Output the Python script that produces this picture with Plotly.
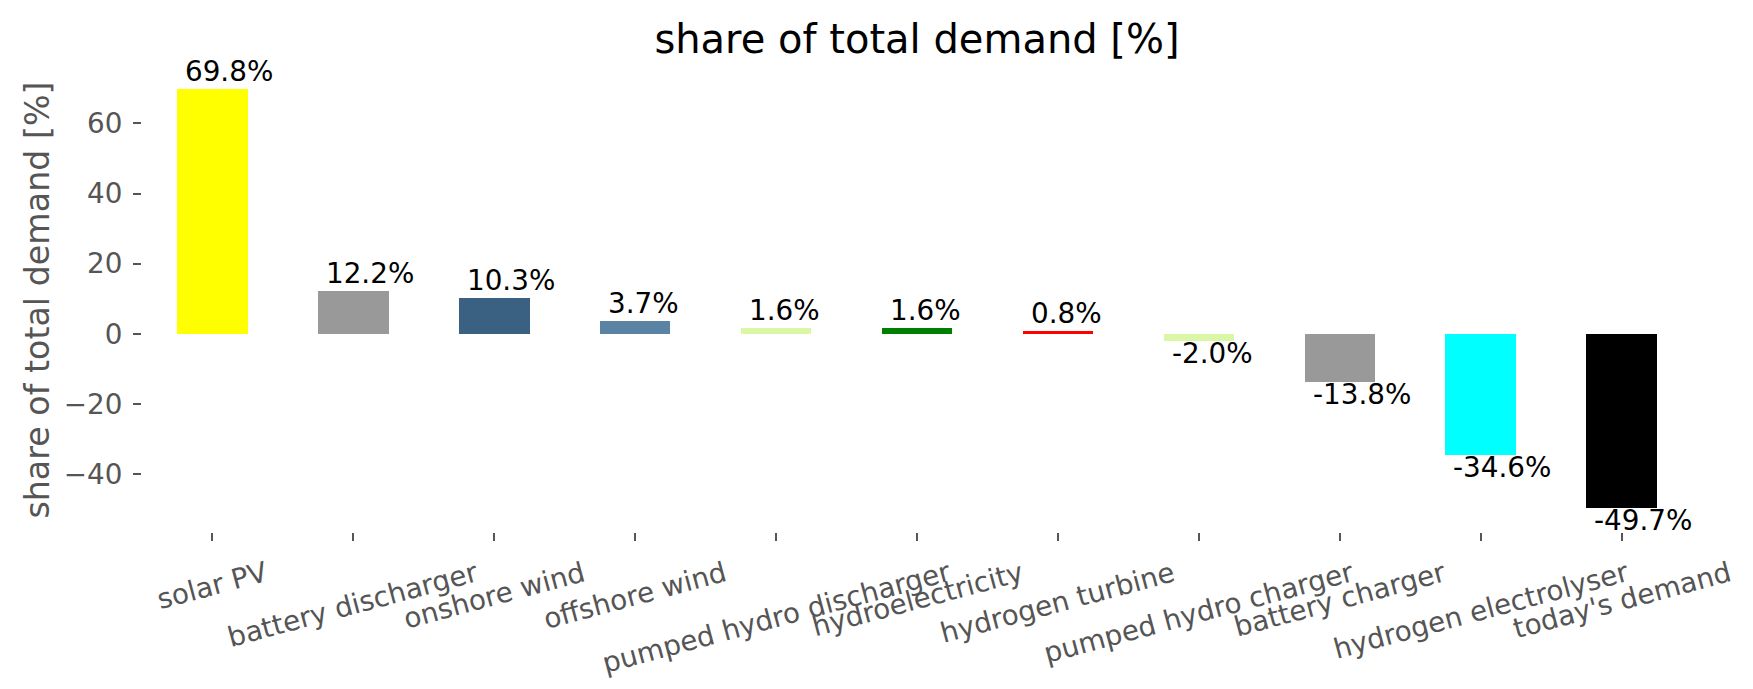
import plotly.graph_objects as go

# carriers, in the order they are plotted
carriers = ["solar PV", "battery discharger", "onshore wind", "offshore wind",
            "pumped hydro discharger", "hydroelectricity", "hydrogen turbine",
            "pumped hydro charger", "battery charger", "hydrogen electrolyser",
            "today's demand"]

# share of total demand [%]
shares = [69.8, 12.2, 10.3, 3.7, 1.6, 1.6, 0.8, -2.0, -13.8, -34.6, -49.7]

colors = ["#ffff00", "#999999", "#3b6182", "#5b83a3", "#daf7a6", "#008000",
          "#ff0000", "#daf7a6", "#999999", "#00ffff", "#000000"]

FONT = "DejaVu Sans"
GREY = "#555555"

fig = go.Figure()

fig.add_trace(go.Bar(
    x=list(range(len(carriers))),
    y=shares,
    width=0.5,
    marker=dict(color=colors, line=dict(width=0)),
    hoverinfo="skip",
))

annotations = []

# value labels, left aligned just inside the bar edge
for i, v in enumerate(shares):
    annotations.append(dict(
        x=i - 0.2, y=v, xref="x", yref="y",
        text=f"{v:.1f}%",
        showarrow=False,
        xanchor="left",
        yanchor="bottom" if v >= 0 else "top",
        yshift=0 if v >= 0 else 5,
        font=dict(family=FONT, size=27.8, color="black"),
        borderpad=0,
    ))

# rotated category labels, centred under each tick like matplotlib does
for i, name in enumerate(carriers):
    annotations.append(dict(
        x=i, y=0, xref="x", yref="paper",
        text=name,
        showarrow=False,
        textangle=-15,
        xanchor="center",
        yanchor="top",
        yshift=-22,
        font=dict(family=FONT, size=27.8, color=GREY),
        borderpad=0,
    ))

fig.update_layout(
    width=1753,
    height=689,
    margin=dict(l=142, r=61, t=68, b=157),
    paper_bgcolor="white",
    plot_bgcolor="white",
    showlegend=False,
    bargap=0,
    title=dict(
        text="share of total demand [%]",
        x=(142 + 1692) / 2 / 1753,
        xanchor="center",
        y=1 - 39 / 689,
        yanchor="middle",
        font=dict(family=FONT, size=40, color="black"),
    ),
    annotations=annotations,
)

fig.update_xaxes(
    range=[-0.5, len(carriers) - 0.5],
    tickmode="array",
    tickvals=list(range(len(carriers))),
    showticklabels=False,
    ticks="outside",
    ticklen=8,
    tickwidth=1.5,
    tickcolor=GREY,
    showgrid=False,
    zeroline=False,
    showline=False,
)

fig.update_yaxes(
    range=[-56.5, 75.8],
    tickvals=[-40, -20, 0, 20, 40, 60],
    ticks="outside",
    ticklen=8,
    tickwidth=1.5,
    tickcolor=GREY,
    ticklabelstandoff=5,
    tickfont=dict(family=FONT, size=27.8, color=GREY),
    title=dict(text="share of total demand [%]", standoff=4,
               font=dict(family=FONT, size=33.3, color=GREY)),
    showgrid=False,
    zeroline=False,
    showline=False,
)

# the page body has a default 8px margin; drop it so the figure sits at 0,0
fig.write_html("out.html", config={"displayModeBar": False},
               post_script="document.body.style.margin='0';")
